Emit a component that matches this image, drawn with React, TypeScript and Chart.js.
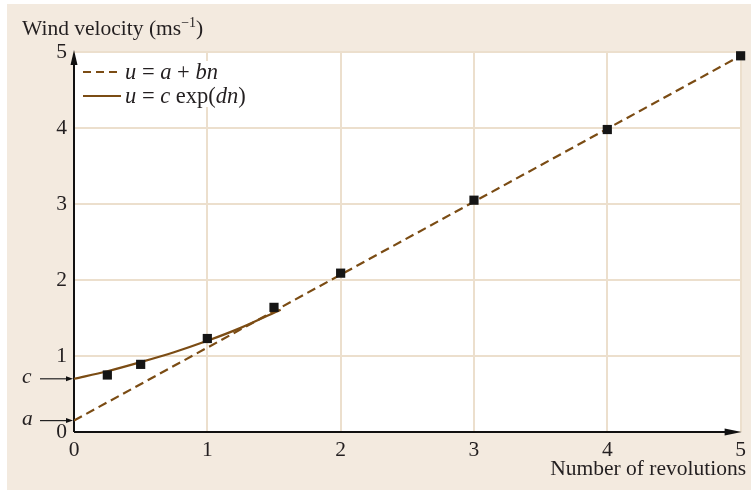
import { useEffect, useRef } from "react";
import { Chart, registerables } from "chart.js";

Chart.register(...registerables);

// Measured data (number of revolutions n, wind velocity u)
const N_MEAS = [0.25, 0.5, 1, 1.5, 2, 3, 4, 5];
const U_MEAS = [0.75, 0.89, 1.23, 1.64, 2.09, 3.05, 3.98, 4.95];

// Linear fit u = a + bn (end points)
const N_LIN = [0, 5];
const U_LIN = [0.15, 4.95];

// Exponential fit u = c exp(dn)
const N_EXP = [0, 0.25, 0.5, 0.75, 1, 1.25, 1.55];
const U_EXP = [0.7, 0.8, 0.92, 1.05, 1.2, 1.37, 1.61];

const TICKS = [0, 1, 2, 3, 4, 5];
const C_VALUE = 0.7;
const A_VALUE = 0.15;

const BROWN = "#7b4c14";
const BEIGE = "#f3eadf";
const GRID = "#ecdfcd";
const INK = "#231f20";
const SERIF = "'Liberation Serif', 'Times New Roman', serif";
const FS = 21.5;

type Part = [string, boolean];

function drawRich(ctx: CanvasRenderingContext2D, x: number, y: number, parts: Part[], size: number) {
  let cx = x;
  for (const [t, it] of parts) {
    ctx.font = `${it ? "italic " : ""}${size}px ${SERIF}`;
    ctx.fillText(t, cx, y);
    cx += ctx.measureText(t).width;
  }
  return cx;
}

const decorPlugin = {
  id: "decor",
  beforeDraw(chart: any) {
    const { ctx, chartArea } = chart;
    ctx.save();
    ctx.fillStyle = "#ffffff";
    ctx.fillRect(0, 0, chart.width, chart.height);
    ctx.fillStyle = BEIGE;
    ctx.fillRect(7, 4, chart.width - 7, chart.height - 5);
    ctx.fillStyle = "#ffffff";
    ctx.fillRect(chartArea.left, chartArea.top, chartArea.right - chartArea.left, chartArea.bottom - chartArea.top);
    ctx.restore();
  },
  beforeDatasetsDraw(chart: any) {
    const { ctx, chartArea, scales } = chart;
    const xs = scales.x;
    const ys = scales.y;
    const x0 = xs.getPixelForValue(0);
    const y0 = ys.getPixelForValue(0);
    ctx.save();
    ctx.strokeStyle = "#111";
    ctx.fillStyle = "#111";
    ctx.lineWidth = 2;
    ctx.beginPath();
    ctx.moveTo(x0, y0);
    ctx.lineTo(x0, chartArea.top + 6);
    ctx.moveTo(x0, y0);
    ctx.lineTo(chartArea.right - 6, y0);
    ctx.stroke();
    ctx.beginPath();
    ctx.moveTo(x0, chartArea.top - 2);
    ctx.lineTo(x0 - 3.5, chartArea.top + 13);
    ctx.lineTo(x0 + 3.5, chartArea.top + 13);
    ctx.closePath();
    ctx.fill();
    ctx.beginPath();
    ctx.moveTo(chartArea.right + 1, y0);
    ctx.lineTo(chartArea.right - 16, y0 - 3.5);
    ctx.lineTo(chartArea.right - 16, y0 + 3.5);
    ctx.closePath();
    ctx.fill();
    ctx.restore();
  },
  afterDraw(chart: any) {
    const { ctx, scales } = chart;
    const xs = scales.x;
    const ys = scales.y;
    const x0 = xs.getPixelForValue(0);
    ctx.save();
    // c and a pointers
    ctx.fillStyle = INK;
    ctx.textBaseline = "middle";
    for (const [lab, v] of [["c", C_VALUE], ["a", A_VALUE]] as [string, number][]) {
      const py = ys.getPixelForValue(v);
      ctx.font = `italic ${FS}px ${SERIF}`;
      ctx.textAlign = "left";
      ctx.fillText(lab, 22, py - 1);
      ctx.strokeStyle = "#222";
      ctx.lineWidth = 1.2;
      ctx.beginPath();
      ctx.moveTo(40, py);
      ctx.lineTo(x0 - 6, py);
      ctx.stroke();
      ctx.fillStyle = "#111";
      ctx.beginPath();
      ctx.moveTo(x0 - 1, py);
      ctx.lineTo(x0 - 8, py - 2.5);
      ctx.lineTo(x0 - 8, py + 2.5);
      ctx.closePath();
      ctx.fill();
      ctx.fillStyle = INK;
    }

    // axis titles
    ctx.textAlign = "left";
    ctx.textBaseline = "alphabetic";
    ctx.fillStyle = INK;
    let ex = drawRich(ctx, 22, 35, [["Wind velocity (ms", false]], FS);
    ctx.font = `14px ${SERIF}`;
    ctx.fillText("\u22121", ex, 27);
    ex += ctx.measureText("\u22121").width;
    drawRich(ctx, ex, 35, [[")", false]], FS);

    ctx.font = `${FS}px ${SERIF}`;
    ctx.textAlign = "right";
    ctx.fillText("Number of revolutions", 746, 475);

    // legend
    ctx.textAlign = "left";
    ctx.fillStyle = "#ffffff";
    ctx.fillRect(78, 61, 175, 46);
    ctx.strokeStyle = BROWN;
    ctx.lineWidth = 2.2;
    ctx.setLineDash([8, 5]);
    ctx.beginPath();
    ctx.moveTo(83, 72);
    ctx.lineTo(121, 72);
    ctx.stroke();
    ctx.setLineDash([]);
    ctx.beginPath();
    ctx.moveTo(83, 96);
    ctx.lineTo(121, 96);
    ctx.stroke();
    ctx.fillStyle = INK;
    drawRich(ctx, 125, 79, [["u", true], [" = ", false], ["a", true], [" + ", false], ["bn", true]], 22.5);
    drawRich(ctx, 125, 103, [["u", true], [" = ", false], ["c", true], [" exp(", false], ["dn", true], [")", false]], 22.5);
    ctx.restore();
  },
};

export default function App() {
  const ref = useRef<HTMLCanvasElement | null>(null);
  useEffect(() => {
    document.body.style.margin = "0";
    const canvas = ref.current!;
    const tickFont = { family: SERIF, size: FS };
    const chart = new Chart(canvas, {
      type: "scatter",
      data: {
        datasets: [
          {
            label: "measured",
            data: N_MEAS.map((n, i) => ({ x: n, y: U_MEAS[i] })),
            pointStyle: "rect",
            pointRadius: 6.5,
            pointBackgroundColor: "#151515",
            pointBorderWidth: 0,
            showLine: false,
            clip: false,
            order: 0,
          },
          {
            label: "u = a + bn",
            data: N_LIN.map((n, i) => ({ x: n, y: U_LIN[i] })),
            showLine: true,
            borderColor: BROWN,
            borderWidth: 2.2,
            borderDash: [9, 5],
            pointRadius: 0,
            order: 2,
          },
          {
            label: "u = c exp(dn)",
            data: N_EXP.map((n, i) => ({ x: n, y: U_EXP[i] })),
            showLine: true,
            borderColor: BROWN,
            borderWidth: 2.2,
            cubicInterpolationMode: "monotone",
            pointRadius: 0,
            order: 1,
          },
        ],
      },
      options: {
        responsive: false,
        animation: false,
        layout: { padding: { top: 52, right: 10, left: 0, bottom: 0 } },
        plugins: { legend: { display: false }, tooltip: { enabled: false } },
        scales: {
          x: {
            type: "linear",
            min: 0,
            max: 5,
            afterBuildTicks: (s: any) => {
              s.ticks = TICKS.map((v) => ({ value: v }));
            },
            afterFit: (s: any) => {
              s.height = 59;
            },
            ticks: { font: tickFont, color: INK, padding: 5 },
            grid: { color: GRID, lineWidth: 2, drawTicks: false },
            border: { display: false },
          },
          y: {
            type: "linear",
            min: 0,
            max: 5,
            afterBuildTicks: (s: any) => {
              s.ticks = TICKS.map((v) => ({ value: v }));
            },
            afterFit: (s: any) => {
              s.width = 74;
            },
            ticks: { font: tickFont, color: INK, padding: 7 },
            grid: { color: GRID, lineWidth: 2, drawTicks: false },
            border: { display: false },
          },
        },
      },
      plugins: [decorPlugin],
    } as any);
    return () => chart.destroy();
  }, []);
  return (
    <div style={{ position: "absolute", left: 0, top: 0, width: 751, height: 491 }}>
      <canvas ref={ref} width={751} height={491} style={{ display: "block" }} />
    </div>
  );
}
